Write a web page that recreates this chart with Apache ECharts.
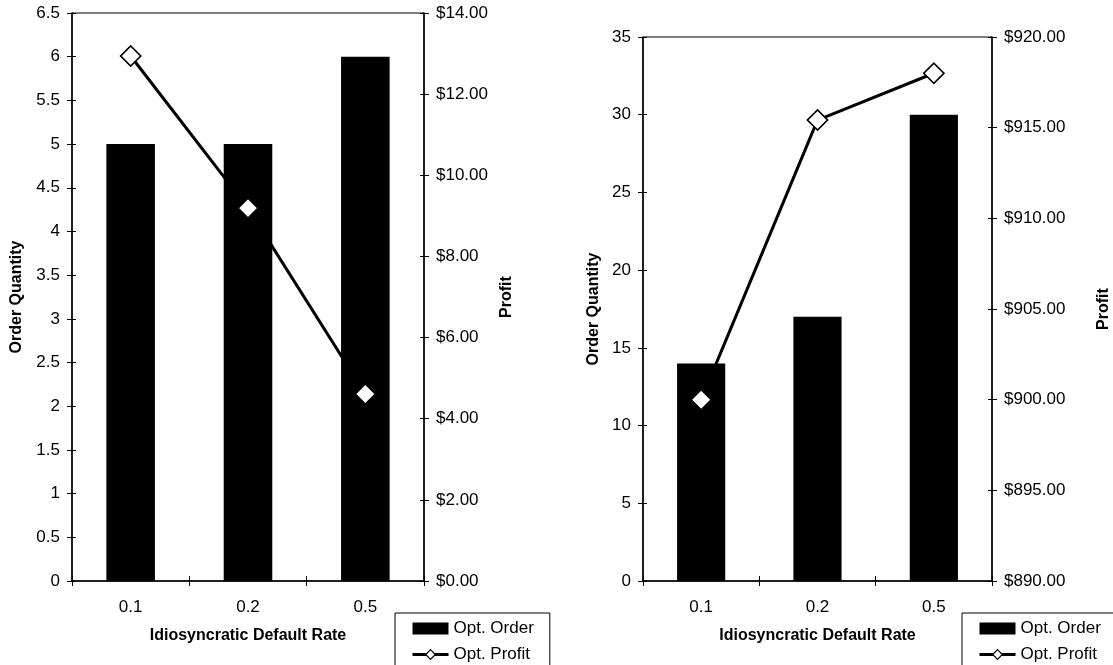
<!DOCTYPE html>
<html>
<head>
<meta charset="utf-8">
<script src="https://cdn.jsdelivr.net/npm/echarts@6/dist/echarts.min.js"></script>
<style>
html,body{margin:0;padding:0;background:#fff;}
#chart{width:1113px;height:665px;}
</style>
</head>
<body>
<div id="chart"></div>
<script>
// ---- data ----
const categories = ['0.1', '0.2', '0.5'];
const leftOrder = [5, 5, 6];
const leftProfit = [12.94, 9.19, 4.61];
const rightOrder = [14, 17, 30];
const rightProfit = [900.0, 915.42, 918.0];
const xTitle = 'Idiosyncratic Default Rate';
const yLeftTitle = 'Order Quantity';
const yRightTitle = 'Profit';
const barName = 'Opt. Order';
const lineName = 'Opt. Profit';

const FONT = '"Liberation Sans", Arial, sans-serif';
const chart = echarts.init(document.getElementById('chart'));

function money(v) { return '$' + v.toFixed(2); }

const axisLine = { show: true, lineStyle: { color: '#000', width: 1.5 } };
const axisTick = { show: true, length: 5, lineStyle: { color: '#000', width: 1 } };
const labelStyle = { color: '#000', fontSize: 17, fontFamily: FONT };
const nameStyle = { color: '#000', fontSize: 16, fontWeight: 'bold', fontFamily: FONT };

function xAxis(gi) {
  return {
    type: 'category', gridIndex: gi, data: categories, boundaryGap: true,
    axisLine: axisLine, axisTick: axisTick,
    axisLabel: Object.assign({ margin: 18 }, labelStyle),
    name: xTitle, nameLocation: 'middle', nameGap: 47, nameTextStyle: nameStyle,
    splitLine: { show: false }
  };
}
function xAxisInner(gi) {
  return {
    type: 'category', gridIndex: gi, data: categories, boundaryGap: true, position: 'bottom',
    axisLine: { show: false }, axisTick: { show: true, inside: true, length: 5, lineStyle: { color: '#000', width: 1 } },
    axisLabel: { show: false }, splitLine: { show: false }
  };
}
function yAxis(gi, pos, min, max, interval, fmt, gap) {
  return {
    type: 'value', gridIndex: gi, position: pos, min: min, max: max, interval: interval,
    axisLine: axisLine, axisTick: axisTick,
    axisLabel: Object.assign({ margin: 12, formatter: fmt }, labelStyle),
    name: pos === 'left' ? yLeftTitle : yRightTitle,
    nameLocation: 'middle', nameGap: gap, nameRotate: 90, nameTextStyle: nameStyle,
    splitLine: { show: false }
  };
}
function yAxisInner(gi, pos, min, max, interval) {
  return {
    type: 'value', gridIndex: gi, position: pos, min: min, max: max, interval: interval,
    axisLine: { show: false }, axisTick: { show: true, inside: true, length: 4, lineStyle: { color: '#000', width: 1 } },
    axisLabel: { show: false }, splitLine: { show: false }
  };
}

const diamondItem = { color: '#fff', borderColor: '#000', borderWidth: 1.5, opacity: 1 };

function seriesFor(gi, orders, profits) {
  const xi = gi, yl = gi * 2, yr = gi * 2 + 1;
  return [
    { name: barName, type: 'bar', xAxisIndex: xi, yAxisIndex: yl, data: orders,
      barWidth: '41.4%', itemStyle: { color: '#000' }, z: 2 },
    { name: lineName, type: 'line', xAxisIndex: xi, yAxisIndex: yr, data: profits,
      symbol: 'diamond', symbolSize: 20, showSymbol: true,
      lineStyle: { color: '#000', width: 3 }, itemStyle: diamondItem, z: 1 },
    { name: 'markers' + gi, type: 'scatter', xAxisIndex: xi, yAxisIndex: yr, data: profits,
      symbol: 'diamond', symbolSize: 20, itemStyle: diamondItem, z: 3 }
  ];
}

function legend(left) {
  return {
    orient: 'vertical', left: left, top: 613, height: 80,
    data: [
      { name: barName, icon: 'rect' },
      { name: lineName, lineStyle: { width: 3, color: '#000' }, itemStyle: { color: '#fff', borderColor: '#000', borderWidth: 1.2 } }
    ],
    backgroundColor: '#fff', borderColor: '#000', borderWidth: 1,
    padding: [7, 16, 30, 16], itemGap: 9, itemWidth: 36, itemHeight: 12,
    textStyle: { color: '#000', fontSize: 17, fontFamily: FONT }
  };
}

chart.setOption({
  animation: false,
  backgroundColor: '#fff',
  textStyle: { fontFamily: FONT },
  grid: [
    { left: 72, top: 13, right: 689, bottom: 84, show: true, borderColor: '#000', borderWidth: 1, backgroundColor: 'transparent' },
    { left: 643, top: 37, right: 120, bottom: 84, show: true, borderColor: '#000', borderWidth: 1, backgroundColor: 'transparent' }
  ],
  xAxis: [xAxis(0), xAxis(1), xAxisInner(0), xAxisInner(1)],
  yAxis: [
    yAxis(0, 'left', 0, 6.5, 0.5, null, 47),
    yAxis(0, 'right', 0, 14, 2, money, 75),
    yAxis(1, 'left', 0, 35, 5, null, 41),
    yAxis(1, 'right', 890, 920, 5, money, 104),
    yAxisInner(0, 'left', 0, 6.5, 0.5),
    yAxisInner(0, 'right', 0, 14, 2),
    yAxisInner(1, 'left', 0, 35, 5),
    yAxisInner(1, 'right', 890, 920, 5)
  ],
  legend: [legend(395), legend(962)],
  series: seriesFor(0, leftOrder, leftProfit).concat(seriesFor(1, rightOrder, rightProfit))
});
</script>
</body>
</html>
